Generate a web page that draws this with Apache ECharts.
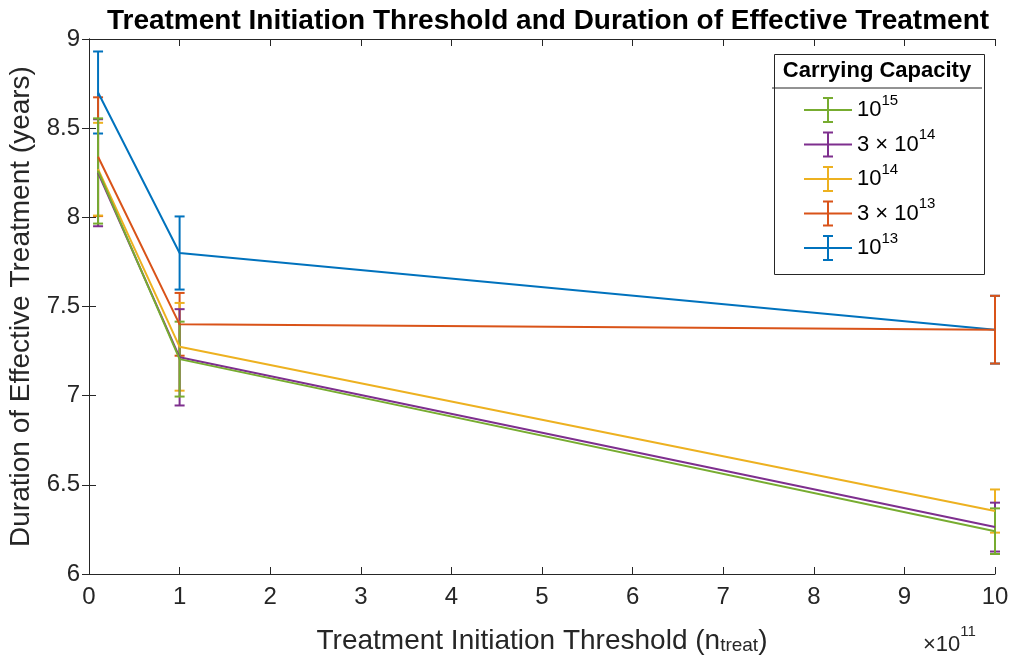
<!DOCTYPE html>
<html>
<head>
<meta charset="utf-8">
<script src="https://cdn.jsdelivr.net/npm/echarts@6/dist/echarts.min.js"></script>
<style>
  html, body { margin: 0; padding: 0; background: #fff; }
  #chart { width: 1012px; height: 661px; }
</style>
</head>
<body>
<div id="chart"></div>
<script>
// Treatment initiation threshold, in units of 1e11 cells
const thresholds = [0.1, 1, 10];

// Mean duration of effective treatment (years) and error half-widths, per carrying capacity
const mean_K1e13 = [8.70, 7.80, 7.37];
const err_K1e13  = [0.23, 0.205, 0.19];
const mean_K3e13 = [8.34, 7.40, 7.37];
const err_K3e13  = [0.333, 0.176, 0.19];
const mean_K1e14 = [8.27, 7.274, 6.353];
const err_K1e14  = [0.26, 0.246, 0.121];
const mean_K3e14 = [8.25, 7.215, 6.263];
const err_K3e14  = [0.30, 0.27, 0.137];
const mean_K1e15 = [8.26, 7.205, 6.24];
const err_K1e15  = [0.295, 0.21, 0.128];

const xTicks = [0, 1, 2, 3, 4, 5, 6, 7, 8, 9, 10];
const yTicks = [6, 6.5, 7, 7.5, 8, 8.5, 9];

// Legend order (top to bottom) and labels
const legendOrder = ['K1e15', 'K3e14', 'K1e14', 'K3e13', 'K1e13'];
const legendLabels = {
  K1e15: '10{s|15}',
  K3e14: '3 × 10{s|14}',
  K1e14: '10{s|14}',
  K3e13: '3 × 10{s|13}',
  K1e13: '10{s|13}'
};

// Drawing order: first drawn sits underneath
const groups = [
  { name: 'K1e13', color: '#0072BD', mean: mean_K1e13, err: err_K1e13 },
  { name: 'K3e13', color: '#D95319', mean: mean_K3e13, err: err_K3e13 },
  { name: 'K1e14', color: '#EDB120', mean: mean_K1e14, err: err_K1e14 },
  { name: 'K3e14', color: '#7E2F8E', mean: mean_K3e14, err: err_K3e14 },
  { name: 'K1e15', color: '#77AC30', mean: mean_K1e15, err: err_K1e15 }
];

const FONT = '"Liberation Sans", Arial, Helvetica, sans-serif';
const INK = '#262626';
const CAP = 5;

function renderErrorBar(params, api) {
  const x = api.value(0);
  const lo = api.coord([x, api.value(1)]);
  const hi = api.coord([x, api.value(2)]);
  const stroke = api.visual('color');
  const st = { stroke: stroke, lineWidth: 2 };
  return {
    type: 'group',
    children: [
      { type: 'line', shape: { x1: hi[0], y1: hi[1], x2: lo[0], y2: lo[1] }, style: st },
      { type: 'line', shape: { x1: hi[0] - CAP, y1: hi[1], x2: hi[0] + CAP, y2: hi[1] }, style: st },
      { type: 'line', shape: { x1: lo[0] - CAP, y1: lo[1], x2: lo[0] + CAP, y2: lo[1] }, style: st }
    ]
  };
}

const series = [];
groups.forEach(function (g) {
  series.push({
    name: g.name,
    type: 'custom',
    renderItem: renderErrorBar,
    itemStyle: { color: g.color },
    encode: { x: 0, y: [1, 2] },
    data: thresholds.map(function (t, i) {
      return [t, g.mean[i] - g.err[i], g.mean[i] + g.err[i]];
    }),
    silent: true,
    animation: false
  });
  series.push({
    name: g.name,
    type: 'line',
    symbol: 'none',
    color: g.color,
    lineStyle: { color: g.color, width: 2 },
    data: thresholds.map(function (t, i) { return [t, g.mean[i]]; }),
    silent: true,
    animation: false
  });
});

const axisCommon = {
  type: 'value',
  axisLine: { show: true, lineStyle: { color: INK, width: 1 } },
  axisTick: { show: true, inside: true, length: 7, lineStyle: { color: INK, width: 1 } },
  splitLine: { show: false }
};

const chart = echarts.init(document.getElementById('chart'), null, { renderer: 'canvas' });
chart.setOption({
  backgroundColor: '#fff',
  animation: false,
  title: {
    text: 'Treatment Initiation Threshold and Duration of Effective Treatment',
    left: 543,
    top: 2,
    textAlign: 'center',
    textStyle: { fontFamily: FONT, fontSize: 28, fontWeight: 'bold', color: '#000' }
  },
  grid: { left: 89, right: 17, top: 39, bottom: 87, show: false, outerBoundsMode: 'none' },
  xAxis: [
    Object.assign({}, axisCommon, {
      min: xTicks[0], max: xTicks[xTicks.length - 1], interval: 1,
      position: 'bottom',
      name: 'Treatment Initiation Threshold (n{sub|treat})',
      nameLocation: 'middle',
      nameGap: 39,
      nameTextStyle: {
        fontFamily: FONT, fontSize: 28, color: INK,
        rich: { sub: { fontFamily: FONT, fontSize: 19, color: INK, verticalAlign: 'bottom', lineHeight: 14, padding: [22, 0, 0, 0] } }
      },
      axisLabel: { show: true, margin: 11, fontFamily: FONT, fontSize: 24, color: INK }
    }),
    Object.assign({}, axisCommon, {
      min: xTicks[0], max: xTicks[xTicks.length - 1], interval: 1,
      position: 'top',
      axisLabel: { show: false }
    })
  ],
  yAxis: [
    Object.assign({}, axisCommon, {
      min: yTicks[0], max: yTicks[yTicks.length - 1], interval: 0.5,
      position: 'left',
      name: 'Duration of Effective Treatment (years)',
      nameLocation: 'middle',
      nameGap: 53,
      nameTextStyle: { fontFamily: FONT, fontSize: 28, color: INK },
      axisLabel: { show: true, margin: 9, fontFamily: FONT, fontSize: 24, color: INK }
    }),
    Object.assign({}, axisCommon, {
      min: yTicks[0], max: yTicks[yTicks.length - 1], interval: 0.5,
      position: 'right',
      axisLabel: { show: false }
    })
  ],
  legend: {
    data: legendOrder,
    orient: 'vertical',
    left: 799,
    top: 88,
    itemWidth: 48,
    itemHeight: 26,
    itemGap: 0.5,
    selectedMode: false,
    icon: 'path://M0,12H48V14H0Z M23,0H25V26H23Z M19,0H29V2H19Z M19,24H29V26H19Z',
    itemStyle: { borderWidth: 0 },
    formatter: function (name) { return legendLabels[name]; },
    textStyle: {
      fontFamily: FONT, fontSize: 22, color: '#000', lineHeight: 34,
      rich: { s: { fontFamily: FONT, fontSize: 15, color: '#000', verticalAlign: 'top', lineHeight: 14 } }
    }
  },
  graphic: [
    {
      type: 'rect', left: 772, top: 52, z: 10,
      shape: { width: 210, height: 220 },
      style: { fill: null, stroke: INK, lineWidth: 1 }
    },
    {
      type: 'line', z: 10,
      shape: { x1: 772, y1: 88, x2: 982, y2: 88 },
      style: { stroke: INK, lineWidth: 1 }
    },
    {
      type: 'text', x: 877, y: 71, z: 10,
      style: {
        text: 'Carrying Capacity', fontFamily: FONT, fontSize: 22, fontWeight: 'bold',
        fill: '#000', align: 'center', verticalAlign: 'middle'
      }
    },
    {
      type: 'text', x: 923, y: 624, z: 10,
      style: {
        text: '×10{s|11}', fontFamily: FONT, fontSize: 22, fill: INK,
        rich: { s: { fontFamily: FONT, fontSize: 15, fill: INK, verticalAlign: 'top', lineHeight: 14 } },
        lineHeight: 42
      }
    }
  ],
  series: series
});
</script>
</body>
</html>
